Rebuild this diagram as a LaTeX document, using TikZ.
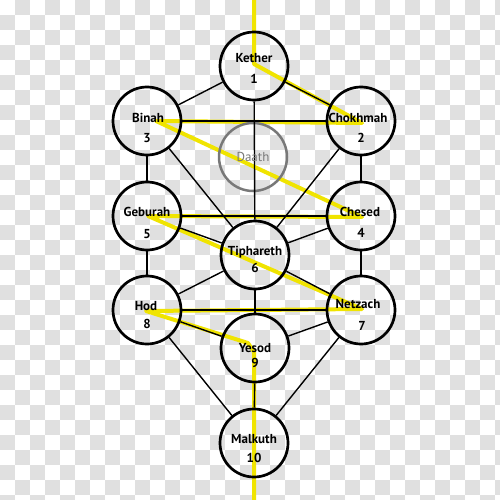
\documentclass[tikz,border=0pt]{standalone}
\usepackage{fontspec}
\setmainfont{PT Sans}
\pgfdeclarelayer{bg}
\pgfdeclarelayer{flashlayer}
\pgfsetlayers{bg,flashlayer,main}
\definecolor{chk}{RGB}{224,224,224}
\definecolor{flashy}{RGB}{240,228,0}
\definecolor{daathgray}{RGB}{120,120,120}
\tikzset{
  sephira/.style={circle, draw=black, line width=2.7pt, minimum size=68pt, inner sep=0pt},
  daathc/.style={circle, draw=daathgray, line width=2.5pt, minimum size=68pt, inner sep=0pt},
  conn/.style={line width=1.4pt, draw=black},
  flash/.style={line width=4pt, draw=flashy, line join=round},
  nm/.style={anchor=base, inner sep=0pt, font=\bfseries\fontsize{13}{13}\selectfont},
  dnm/.style={anchor=base, inner sep=0pt, text=daathgray, font=\fontsize{13}{13}\selectfont}
}
\begin{document}
\begin{tikzpicture}[x=1pt,y=-1pt]
\useasboundingbox (0,0) rectangle (500,500);
\begin{pgfonlayer}{bg}
  \fill[white] (0,0) rectangle (500,500);
  \begin{scope}
    \clip (0,0) rectangle (500,500);
    \foreach \r in {0,...,33} {
      \foreach \c in {0,...,33} {
        \ifodd\numexpr\r+\c\relax
          \fill[chk] (\c*15,\r*15) rectangle ++(15,15);
        \fi
      }
    }
  \end{scope}
\end{pgfonlayer}

% sephiroth
\node[sephira] (k) at (254,66) {};
\node[sephira] (c2) at (361,121) {};
\node[sephira] (b3) at (147,121) {};
\node[daathc] (d) at (253,157) {};
\node[sephira] (c4) at (361,216) {};
\node[sephira] (g5) at (147,216) {};
\node[sephira] (t6) at (255,255) {};
\node[sephira] (n7) at (361,310) {};
\node[sephira] (h8) at (147,310) {};
\node[sephira] (y9) at (255,348) {};
\node[sephira] (m10) at (254,443) {};

% lightning flash
\coordinate (f0) at (254,0);
\coordinate (f1) at (254,64);
\coordinate (f2) at (362,123);
\coordinate (f3) at (156,121);
\coordinate (f4) at (362,217);
\coordinate (f5) at (148,216);
\coordinate (f6) at (362,309);
\coordinate (f7) at (146,311);
\coordinate (f8) at (248,343);
\coordinate (f9) at (254,352);
\coordinate (f10) at (254,500);
\begin{pgfonlayer}{flashlayer}
  \draw[flash] (f0) -- (f1) -- (f2) -- (f3) -- (f4) -- (f5) -- (f6) -- (f7) -- (f8) -- (f9) -- (f10);
\end{pgfonlayer}

% paths
\draw[conn] (k) -- (c2);
\draw[conn] (k) -- (b3);
\draw[conn] (k) -- (t6);
\draw[conn] (c2) -- (b3);
\draw[conn] (c2) -- (c4);
\draw[conn] (c2) -- (t6);
\draw[conn] (b3) -- (g5);
\draw[conn] (b3) -- (t6);
\draw[conn] (c4) -- (g5);
\draw[conn] (c4) -- (t6);
\draw[conn] (c4) -- (n7);
\draw[conn] (g5) -- (t6);
\draw[conn] (g5) -- (h8);
\draw[conn] (t6) -- (n7);
\draw[conn] (t6) -- (h8);
\draw[conn] (t6) -- (y9);
\draw[conn] (n7) -- (h8);
\draw[conn] (n7) -- (y9);
\draw[conn] (n7) -- (m10);
\draw[conn] (h8) -- (y9);
\draw[conn] (h8) -- (m10);
\draw[conn] (y9) -- (m10);

% labels
\node[nm] (kt) at (254,63) {Kether};
\node[nm] (kn) at (254,84) {1};
\node[nm] (c2t) at (358,122) {Chokhmah};
\node[nm] (c2n) at (361,142) {2};
\node[nm] (b3t) at (148,122) {Binah};
\node[nm] (b3n) at (147,142) {3};
\node[dnm] (dt) at (253,161) {Daath};
\node[nm] (c4t) at (360,216) {Chesed};
\node[nm] (c4n) at (361,237) {4};
\node[nm] (g5t) at (147,216) {Geburah};
\node[nm] (g5n) at (147,238) {5};
\node[nm] (t6t) at (255,255) {Tiphareth};
\node[nm] (t6n) at (255,272) {6};
\node[nm] (n7t) at (358,308) {Netzach};
\node[nm] (n7n) at (362,330) {7};
\node[nm] (h8t) at (146,310) {Hod};
\node[nm] (h8n) at (147,328) {8};
\node[nm] (y9t) at (255,352) {Yesod};
\node[nm] (y9n) at (255,367) {9};
\node[nm] (m10t) at (254,443) {Malkuth};
\node[nm] (m10n) at (254,462) {10};
\end{tikzpicture}
\end{document}
